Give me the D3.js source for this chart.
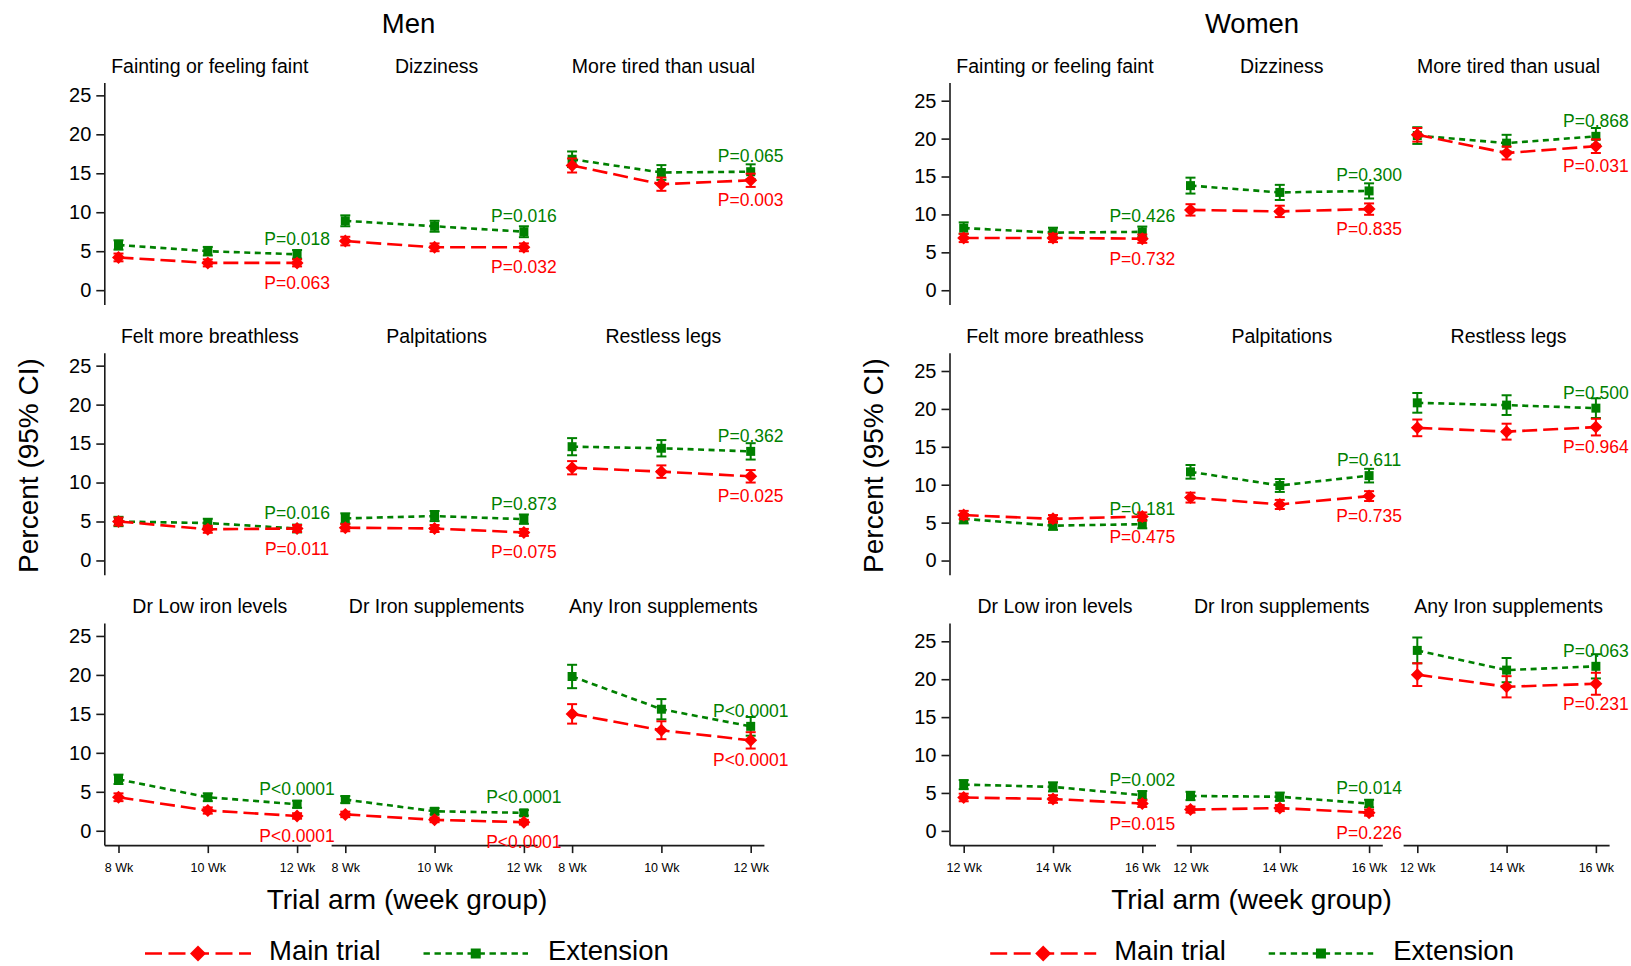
<!DOCTYPE html>
<html>
<head>
<meta charset="utf-8">
<script src="https://cdn.jsdelivr.net/npm/d3@7"></script>
<style>
  html, body { margin: 0; padding: 0; background: #fff; }
  svg { display: block; font-family: "Liberation Sans", Arial, Helvetica, sans-serif; }
</style>
</head>
<body>
<svg id="chart" width="1631" height="966"></svg>
<script>
// ---------------- DATA ----------------
const panelTitles = [
  "Fainting or feeling faint", "Dizziness", "More tired than usual",
  "Felt more breathless", "Palpitations", "Restless legs",
  "Dr Low iron levels", "Dr Iron supplements", "Any Iron supplements"
];
const menWeeks = ["8 Wk", "10 Wk", "12 Wk"];
const womenWeeks = ["12 Wk", "14 Wk", "16 Wk"];
const yTicks = [0, 5, 10, 15, 20, 25];
const seriesNames = ["Main trial", "Extension"];

// Men – Main trial (percent) and 95% CI half-widths
const menMain = [
  [4.2, 3.5, 3.5], [6.3, 5.5, 5.5], [16.0, 13.6, 14.1],
  [5.0, 4.0, 4.1], [4.2, 4.1, 3.6], [11.9, 11.4, 10.8],
  [4.3, 2.6, 1.9], [2.1, 1.4, 1.1], [15.0, 12.9, 11.6]
];
const menMainCI = [
  [0.5, 0.45, 0.45], [0.55, 0.5, 0.5], [0.9, 0.85, 0.85],
  [0.5, 0.45, 0.45], [0.45, 0.45, 0.45], [0.85, 0.8, 0.8],
  [0.5, 0.4, 0.35], [0.35, 0.3, 0.3], [1.25, 1.15, 1.05]
];
// Men – Extension
const menExt = [
  [5.8, 5.0, 4.6], [8.9, 8.2, 7.5], [16.8, 15.1, 15.2],
  [5.0, 4.8, 4.1], [5.4, 5.7, 5.3], [14.6, 14.4, 14.0],
  [6.6, 4.3, 3.4], [4.0, 2.5, 2.3], [19.8, 15.6, 13.4]
];
const menExtCI = [
  [0.6, 0.55, 0.55], [0.7, 0.7, 0.7], [1.0, 0.95, 0.95],
  [0.6, 0.55, 0.5], [0.65, 0.65, 0.6], [1.1, 1.05, 1.05],
  [0.6, 0.5, 0.45], [0.45, 0.4, 0.35], [1.5, 1.3, 1.2]
];
const menExtP = ["P=0.018", "P=0.016", "P=0.065", "P=0.016", "P=0.873", "P=0.362", "P<0.0001", "P<0.0001", "P<0.0001"];
const menMainP = ["P=0.063", "P=0.032", "P=0.003", "P=0.011", "P=0.075", "P=0.025", "P<0.0001", "P<0.0001", "P<0.0001"];

// Women – Main trial
const womenMain = [
  [6.9, 6.9, 6.8], [10.6, 10.4, 10.7], [20.5, 18.1, 19.0],
  [6.0, 5.5, 5.8], [8.3, 7.4, 8.5], [17.5, 17.0, 17.6],
  [4.4, 4.2, 3.6], [2.8, 3.0, 2.4], [20.6, 19.0, 19.4]
];
const womenMainCI = [
  [0.55, 0.55, 0.55], [0.75, 0.75, 0.75], [0.9, 0.85, 0.9],
  [0.55, 0.5, 0.55], [0.65, 0.6, 0.65], [1.1, 1.05, 1.1],
  [0.5, 0.5, 0.45], [0.4, 0.4, 0.4], [1.5, 1.4, 1.45]
];
// Women – Extension
const womenExt = [
  [8.2, 7.6, 7.7], [13.8, 12.9, 13.1], [20.4, 19.4, 20.3],
  [5.5, 4.6, 4.8], [11.7, 9.9, 11.2], [20.8, 20.5, 20.1],
  [6.1, 5.8, 4.7], [4.6, 4.5, 3.6], [23.8, 21.2, 21.7]
];
const womenExtCI = [
  [0.75, 0.65, 0.7], [1.05, 1.0, 1.0], [1.1, 1.1, 1.1],
  [0.6, 0.55, 0.55], [0.9, 0.85, 0.9], [1.3, 1.3, 1.3],
  [0.6, 0.6, 0.55], [0.55, 0.55, 0.5], [1.7, 1.6, 1.6]
];
const womenExtP = ["P=0.426", "P=0.300", "P=0.868", "P=0.181", "P=0.611", "P=0.500", "P=0.002", "P=0.014", "P=0.063"];
const womenMainP = ["P=0.732", "P=0.835", "P=0.031", "P=0.475", "P=0.735", "P=0.964", "P=0.015", "P=0.226", "P=0.231"];

// ---------------- STYLE / LAYOUT ----------------
const RED = "#ff0000", GREEN = "#008000", AXIS = "#1a1a1a";
const svg = d3.select("#chart");

const groups = [
  { title: "Men", weeks: menWeeks, main: menMain, mainCI: menMainCI, ext: menExt, extCI: menExtCI,
    mainP: menMainP, extP: menExtP, x0: 104.3, yDomain: [-1.84, 26.65], titleX: 408.5, xTitleX: 407 },
  { title: "Women", weeks: womenWeeks, main: womenMain, mainCI: womenMainCI, ext: womenExt, extCI: womenExtCI,
    mainP: womenMainP, extP: womenExtP, x0: 949.5, yDomain: [-1.88, 27.4], titleX: 1252, xTitleX: 1251.5 }
];

const panelW = 206, panelStep = 226.8;
const rowTop0 = 82.5, rowBot0 = 304.5, rowStep = 270.3;

function diamondPath(r) { return `M0,${-r}L${r},0L0,${r}L${-r},0Z`; }

groups.forEach(g => {
  const G = svg.append("g");
  const off = g.x0 - 104.3;

  // Group title
  G.append("text").attr("x", g.titleX).attr("y", 32.5).attr("text-anchor", "middle")
    .attr("font-size", 27.5).attr("fill", "#000").text(g.title);

  // Y axis title
  G.append("text").attr("transform", `translate(${38 + off},465.5) rotate(-90)`)
    .attr("text-anchor", "middle").attr("font-size", 28).attr("fill", "#000").text("Percent (95% CI)");

  // X axis title
  G.append("text").attr("x", g.xTitleX).attr("y", 909).attr("text-anchor", "middle")
    .attr("font-size", 28).attr("fill", "#000").text("Trial arm (week group)");

  for (let p = 0; p < 9; p++) {
    const r = Math.floor(p / 3), c = p % 3;
    const left = g.x0 + c * panelStep;
    const top = rowTop0 + r * rowStep, bot = rowBot0 + r * rowStep;
    const x = d3.scaleLinear().domain([-0.159, 2.148]).range([left, left + panelW]);
    const y = d3.scaleLinear().domain(g.yDomain).range([bot, top]);
    const P = G.append("g");

    // panel title
    P.append("text").attr("x", left + panelW / 2 + 2.5).attr("y", 72.7 + r * rowStep)
      .attr("text-anchor", "middle").attr("font-size", 19.5).attr("fill", "#000").text(panelTitles[p]);

    // y axis on first column
    if (c === 0) {
      const ya = P.append("g").attr("transform", `translate(${left},0)`)
        .call(d3.axisLeft(y).tickValues(yTicks).tickSize(8).tickSizeOuter(0).tickPadding(5));
      ya.select(".domain").attr("stroke", AXIS).attr("stroke-width", 1.6);
      ya.selectAll(".tick line").attr("stroke", AXIS).attr("stroke-width", 1.6);
      ya.selectAll(".tick text").attr("font-size", 20).attr("fill", "#000")
        .attr("font-family", "Liberation Sans, Arial, sans-serif");
    }
    // x axis on bottom row
    if (r === 2) {
      const xa = P.append("g").attr("transform", `translate(0,${bot})`)
        .call(d3.axisBottom(x).tickValues([0, 1, 2]).tickFormat(i => g.weeks[i])
          .tickSize(8).tickSizeOuter(0).tickPadding(10));
      xa.select(".domain").attr("stroke", AXIS).attr("stroke-width", 1.6);
      xa.selectAll(".tick line").attr("stroke", AXIS).attr("stroke-width", 1.6);
      xa.selectAll(".tick text").attr("font-size", 12.5).attr("fill", "#000")
        .attr("font-family", "Liberation Sans, Arial, sans-serif");
    }

    const series = [
      { vals: g.ext[p], ci: g.extCI[p], color: GREEN, dash: "6,4.5", shape: "square", label: g.extP[p] },
      { vals: g.main[p], ci: g.mainCI[p], color: RED, dash: "15,6", shape: "diamond", label: g.mainP[p] }
    ];
    series.forEach(s => {
      const pts = s.vals.map((v, i) => ({ i, v, ci: s.ci[i] }));
      // connecting line
      P.append("path").datum(pts)
        .attr("d", d3.line().x(d => x(d.i)).y(d => y(d.v)))
        .attr("fill", "none").attr("stroke", s.color).attr("stroke-width", 2.6)
        .attr("stroke-dasharray", s.dash);
      // error bars
      const eb = P.append("g").attr("stroke", s.color).attr("stroke-width", 2).attr("fill", "none");
      pts.forEach(d => {
        const xx = x(d.i), y1 = y(d.v - d.ci), y2 = y(d.v + d.ci);
        eb.append("line").attr("x1", xx).attr("x2", xx).attr("y1", y1).attr("y2", y2);
        eb.append("line").attr("x1", xx - 5).attr("x2", xx + 5).attr("y1", y1).attr("y2", y1);
        eb.append("line").attr("x1", xx - 5).attr("x2", xx + 5).attr("y1", y2).attr("y2", y2);
      });
      // markers
      P.selectAll(null).data(pts).enter().append("path")
        .attr("transform", d => `translate(${x(d.i)},${y(d.v)})`)
        .attr("d", s.shape === "square" ? "M-4.5,-4.5H4.5V4.5H-4.5Z" : diamondPath(6.5))
        .attr("fill", s.color);
      // P-value label at last point
      const last = pts[2];
      P.append("text").attr("x", x(last.i))
        .attr("y", s.shape === "square" ? y(last.v) - 9.6 : y(last.v) + 26)
        .attr("text-anchor", "middle").attr("font-size", 17.5).attr("fill", s.color).text(s.label);
    });
  }

  // Legend
  const L = G.append("g");
  const legY = 953.5;
  const legItems = [
    { name: seriesNames[0], color: RED, dash: "17,6.5", shape: "diamond", x1: 145 + off, x2: 251 + off, tx: 269 + off },
    { name: seriesNames[1], color: GREEN, dash: "6.4,4.6", shape: "square", x1: 423.5 + off, x2: 528 + off, tx: 548 + off }
  ];
  legItems.forEach(it => {
    L.append("line").attr("x1", it.x1).attr("x2", it.x2).attr("y1", legY).attr("y2", legY)
      .attr("stroke", it.color).attr("stroke-width", 2.6).attr("stroke-dasharray", it.dash);
    const cx = (it.x1 + it.x2) / 2;
    L.append("path").attr("transform", `translate(${cx},${legY})`)
      .attr("d", it.shape === "square" ? "M-5,-5H5V5H-5Z" : diamondPath(8))
      .attr("fill", it.color);
    L.append("text").attr("x", it.tx).attr("y", 960).attr("font-size", 27.5)
      .attr("fill", "#000").text(it.name);
  });
});
</script>
</body>
</html>
